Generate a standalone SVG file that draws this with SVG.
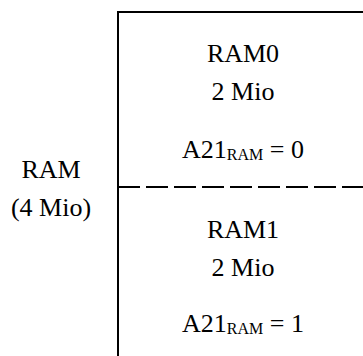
<svg xmlns="http://www.w3.org/2000/svg" width="363" height="356" viewBox="0 0 363 356">
<style>
text{font-family:"Liberation Serif","Times New Roman",serif;font-size:26px;fill:#000;text-anchor:middle}
.sub{font-size:16px}
.edge{fill:none;stroke:#000;stroke-width:2}
</style>
<rect width="363" height="356" fill="#fff"/>
<g id="connectors">
<path class="edge" d="M118 356V12H364"/>
<path class="edge" d="M118 187H364" stroke-dasharray="22 6"/>
</g>
<g id="ram">
<text x="51" y="178">RAM</text>
<text x="51" y="216">(4 Mio)</text>
</g>
<g id="ram0">
<text x="243" y="62">RAM0</text>
<text x="243" y="100">2 Mio</text>
<text x="243" y="158">A21<tspan class="sub" dy="2">RAM</tspan><tspan dy="-2"> = 0</tspan></text>
</g>
<g id="ram1">
<text x="243" y="238">RAM1</text>
<text x="243" y="276">2 Mio</text>
<text x="243" y="332">A21<tspan class="sub" dy="2">RAM</tspan><tspan dy="-2"> = 1</tspan></text>
</g>
</svg>
